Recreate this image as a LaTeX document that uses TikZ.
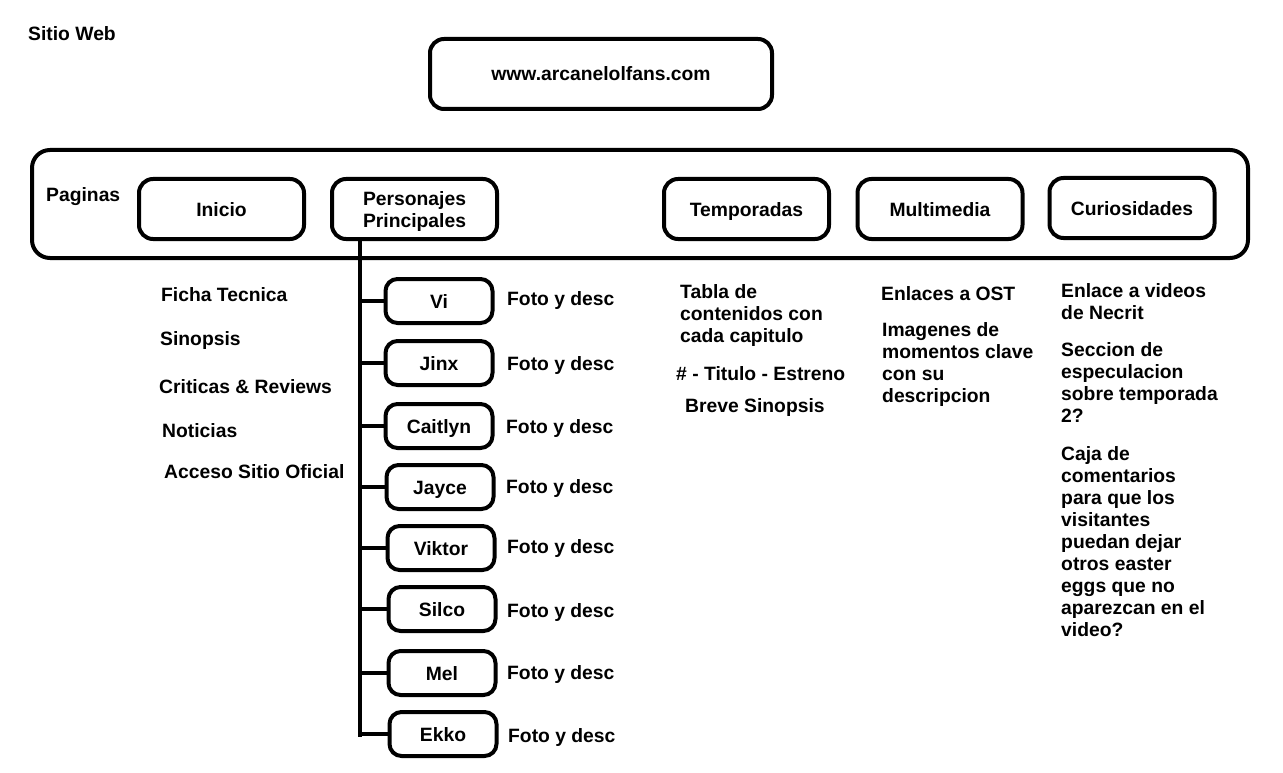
\documentclass[tikz,border=0pt]{standalone}
\usepackage{fontspec}
\setmainfont{Liberation Sans}

\begin{document}
\begin{tikzpicture}[x=1pt, y=-1pt, font={\bfseries\fontsize{19.3}{22}\selectfont},
caja/.style={draw, line width=4pt, rounded corners=14pt, inner sep=0pt, minimum width=165pt, minimum height=60pt, text height=14pt, text depth=0pt},
chico/.style={caja, rounded corners=12pt, minimum width=107pt, minimum height=44pt},
texto/.style={anchor=west, inner sep=0pt, text height=14pt, text depth=0pt},
bloque/.style={anchor=west, inner sep=0pt, align=left},
linea/.style={line width=4pt}]

\useasboundingbox (0,0) rectangle (1283,773);

\node[texto] (titulo) at (28,34) {Sitio Web};
\node[caja, minimum width=342pt, minimum height=70pt] (url) at (601,74) {www.arcanelolfans.com};

% paginas
\node[caja, rounded corners=18pt, minimum width=1216pt, minimum height=108pt] (marco) at (640,204) {};
\node[texto] (paginas) at (46,194) {Paginas};
\node[caja] (inicio) at (221.5,209) {Inicio};
\node[caja, align=left, text height=, text depth=] (personajes) at (414.5,209) {\rule{0pt}{20pt}Personajes\\Principales};
\node[caja] (temporadas) at (746.5,209) {Temporadas};
\node[caja] (multimedia) at (940,209) {Multimedia};
\node[caja] (curiosidades) at (1132,208) {Curiosidades};

% inicio
\node[texto] (ficha) at (161,294) {Ficha Tecnica};
\node[texto] (sinopsis) at (160,338) {Sinopsis};
\node[texto] (criticas) at (159,386) {Criticas \& Reviews};
\node[texto] (noticias) at (162,430) {Noticias};
\node[texto] (oficial) at (164,471) {Acceso Sitio Oficial};

% personajes
\node[chico] (vi) at (439,301) {Vi};
\node[chico] (jinx) at (439,363) {Jinx};
\node[chico] (caitlyn) at (439,426) {Caitlyn};
\node[chico] (jayce) at (440,487) {Jayce};
\node[chico] (viktor) at (441,548) {Viktor};
\node[chico] (silco) at (442,609) {Silco};
\node[chico] (mel) at (442,673) {Mel};
\node[chico] (ekko) at (443,734) {Ekko};

\node[texto] (fvi) at (507,298) {Foto y desc};
\node[texto] (fjinx) at (507,363) {Foto y desc};
\node[texto] (fcaitlyn) at (506,426) {Foto y desc};
\node[texto] (fjayce) at (506,486) {Foto y desc};
\node[texto] (fviktor) at (507,546) {Foto y desc};
\node[texto] (fsilco) at (507,610) {Foto y desc};
\node[texto] (fmel) at (507,672) {Foto y desc};
\node[texto] (fekko) at (508,735) {Foto y desc};

\coordinate (tope) at (360,737);
\draw[linea] (personajes.south -| tope) -- (tope);
\draw[linea] (vi.west -| tope) -- (vi.west);
\draw[linea] (jinx.west -| tope) -- (jinx.west);
\draw[linea] (caitlyn.west -| tope) -- (caitlyn.west);
\draw[linea] (jayce.west -| tope) -- (jayce.west);
\draw[linea] (viktor.west -| tope) -- (viktor.west);
\draw[linea] (silco.west -| tope) -- (silco.west);
\draw[linea] (mel.west -| tope) -- (mel.west);
\draw[linea] (ekko.west -| tope) -- (ekko.west);

% temporadas
\node[bloque] (tabla) at (680,316) {Tabla de\\contenidos con\\cada capitulo};
\node[texto] (estreno) at (676,373) {\# - Titulo - Estreno};
\node[texto] (breve) at (685,405) {Breve Sinopsis};

% multimedia
\node[texto] (ost) at (881,293) {Enlaces a OST};
\node[bloque] (imagenes) at (882,365) {Imagenes de\\momentos clave\\con su\\descripcion};

% curiosidades
\node[bloque] (necrit) at (1061,302) {Enlace a videos\\de Necrit};
\node[bloque] (seccion) at (1061,383) {Seccion de\\especulacion\\sobre temporada\\2?};
\node[bloque] (comentarios) at (1061,542) {Caja de\\comentarios\\para que los\\visitantes\\puedan dejar\\otros easter\\eggs que no\\aparezcan en el\\video?};

\end{tikzpicture}
\end{document}
